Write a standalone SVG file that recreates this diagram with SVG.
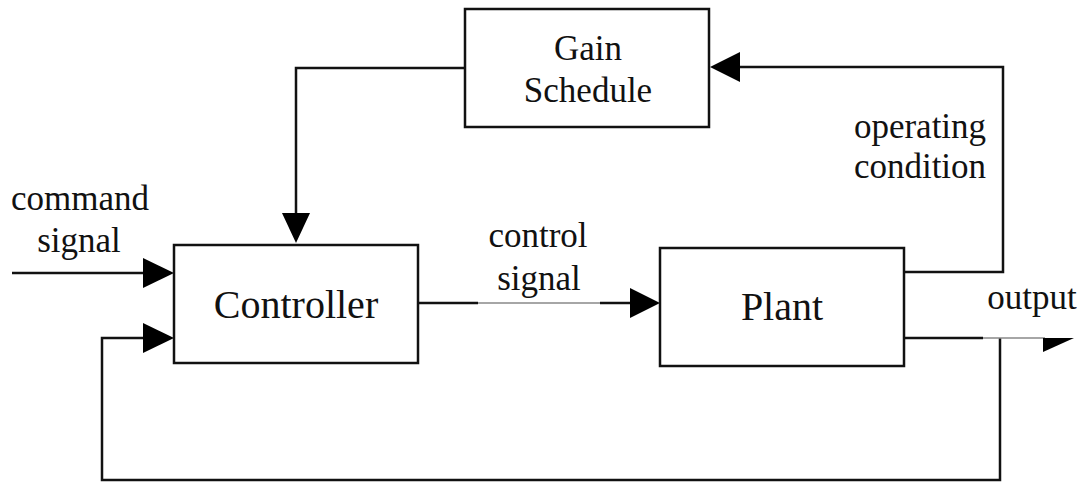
<svg xmlns="http://www.w3.org/2000/svg" width="1085" height="483" viewBox="0 0 1085 483">
<style>
.box{fill:#fff;stroke:#111;stroke-width:2.5}
.ln{fill:none;stroke:#111;stroke-width:2.5}
.thin{fill:none;stroke:#888;stroke-width:1.5}
.ah{fill:#000}
.t{font-family:"Liberation Serif","Times New Roman",serif;fill:#111;text-anchor:middle}
.big{font-size:40px}
.mid{font-size:35px}
.lab{font-size:35px}
</style>
<rect width="1085" height="483" fill="#fff"/>
<g id="connectors">
<polyline class="ln" points="465,68 296,68 296,214"/>
<polygon class="ah" points="282,213 310,213 296,243"/>
<line class="ln" x1="12" y1="273" x2="145" y2="273"/>
<polygon class="ah" points="143,258 143,288 174,273"/>
<polyline class="ln" points="1000,338 1000,480 102,480 102,338 145,338"/>
<polygon class="ah" points="143,323 143,353 174,338"/>
<line class="ln" x1="418" y1="303" x2="478" y2="303"/>
<line class="thin" x1="478" y1="303" x2="600" y2="303"/>
<line class="ln" x1="600" y1="303" x2="632" y2="303"/>
<polygon class="ah" points="630,288 630,318 660,303"/>
<polyline class="ln" points="904,272 1003,272 1003,67 738,67"/>
<polygon class="ah" points="740,52 740,82 710,67"/>
<line class="ln" x1="904" y1="338" x2="983" y2="338"/>
<line class="thin" x1="983" y1="338" x2="1045" y2="338"/>
<polygon class="ah" points="1043,338 1074,338 1043,352"/>
</g>
<g id="gain">
<rect class="box" x="465" y="9" width="244" height="118"/>
<text class="t mid" x="588" y="60">Gain</text>
<text class="t mid" x="588" y="102">Schedule</text>
</g>
<g id="controller">
<rect class="box" x="174" y="245" width="244" height="118"/>
<text class="t big" x="296" y="318">Controller</text>
</g>
<g id="plant">
<rect class="box" x="660" y="248" width="244" height="118"/>
<text class="t big" x="782" y="320">Plant</text>
</g>
<g id="labels">
<text class="t lab" x="80" y="210">command</text>
<text class="t lab" x="79" y="252">signal</text>
<text class="t lab" x="538" y="247">control</text>
<text class="t lab" x="539" y="290">signal</text>
<text class="t lab" x="920" y="138">operating</text>
<text class="t lab" x="920" y="178">condition</text>
<text class="t lab" x="1032" y="309">output</text>
</g>
</svg>
